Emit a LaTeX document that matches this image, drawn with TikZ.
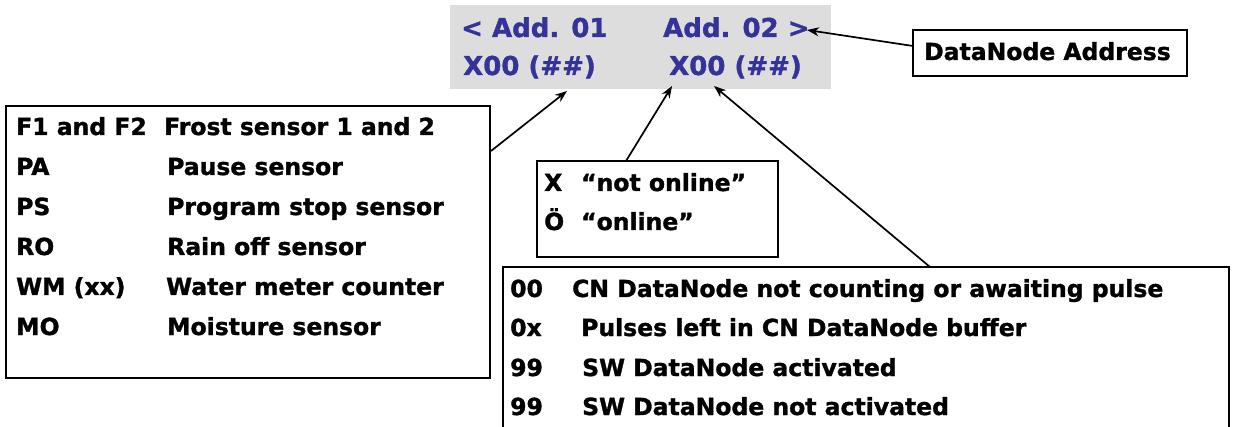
\documentclass[tikz,border=0pt]{standalone}
\usepackage{fontspec}
\setmainfont{DejaVu Sans}[BoldFeatures={FakeBold=1.3}]
\usetikzlibrary{arrows.meta}
\definecolor{addrblue}{HTML}{333399}
\definecolor{panelgrey}{HTML}{DDDDDD}
\begin{document}
\begin{tikzpicture}[x=1pt,y=-1pt,
  box/.style={draw=black, line width=1.5pt, fill=white, inner sep=0pt, outer sep=0pt, anchor=north west},
  txt/.style={anchor=base west, inner sep=0pt, font=\fontsize{23.5}{28}\selectfont\bfseries},
  btxt/.style={anchor=base west, inner sep=0pt, text=addrblue, font=\fontsize{26}{30}\selectfont\bfseries},
  pointer/.style={line width=1.7pt, -{Stealth[length=12pt,width=9pt]}},
  lead/.style={line width=1.3pt}]
\clip (0,0) rectangle (1233,427);
\fill[white] (0,0) rectangle (1233,427);

% grey display panel
\node[fill=panelgrey, inner sep=0pt, outer sep=0pt, anchor=north west, minimum width=381pt, minimum height=84pt] (panel) at (450,5) {};
\node[btxt] (a1) at (461,37) {< Add. 01};
\node[btxt] (a2) at (663,37) {Add. 02 >};
\node[btxt] (x1) at (463,75) {X00 (\#\#)};
\node[btxt] (x2) at (669,75) {X00 (\#\#)};

% DataNode address box
\node[box, minimum width=274pt, minimum height=46pt] (dnbox) at (913,30) {};
\node[txt] (dntext) at (924,60) {DataNode Address};

% sensors box
\node[box, minimum width=484pt, minimum height=272pt] (sensbox) at (6,106) {};
\node[txt] (s1a) at (16,135) {F1 and F2};
\node[txt] (s1b) at (164,135) {Frost sensor 1 and 2};
\node[txt] (s2a) at (16,175) {PA};
\node[txt] (s2b) at (167,175) {Pause sensor};
\node[txt] (s3a) at (16,215) {PS};
\node[txt] (s3b) at (167,215) {Program stop sensor};
\node[txt] (s4a) at (16,255) {RO};
\node[txt] (s4b) at (167,255) {Rain off sensor};
\node[txt] (s5a) at (16,295) {WM (xx)};
\node[txt] (s5b) at (166,295) {Water meter counter};
\node[txt] (s6a) at (16,335) {MO};
\node[txt] (s6b) at (167,335) {Moisture sensor};

% online status box
\node[box, minimum width=241pt, minimum height=96pt] (statbox) at (537,161) {};
\node[txt] (t1a) at (544,191) {X};
\node[txt] (t1b) at (581,191) {“not online”};
\node[txt] (t2a) at (544,230) {Ö};
\node[txt] (t2b) at (581,230) {“online”};

% code box (open at the bottom)
\node[box, minimum width=726pt, minimum height=200pt] (codebox) at (503,267) {};
\node[txt] (c1a) at (510,297) {00};
\node[txt] (c1b) at (572,297) {CN DataNode not counting or awaiting pulse};
\node[txt] (c2a) at (510,336) {0x};
\node[txt] (c2b) at (581,336) {Pulses left in CN DataNode buffer};
\node[txt] (c3a) at (510,376) {99};
\node[txt] (c3b) at (582,376) {SW DataNode activated};
\node[txt] (c4a) at (510,415) {99};
\node[txt] (c4b) at (582,415) {SW DataNode not activated};

% connector end points
\coordinate (sensout) at (491,151);
\coordinate (tip1) at (567,91);
\coordinate (statout) at (626,161);
\coordinate (tip2) at (672,86);
\coordinate (codeout) at (930,267);
\coordinate (tip3) at (714,86);
\coordinate (dnout) at (913,46);
\coordinate (tip4) at (807,30);

\draw[pointer] (sensout) -- (tip1);
\draw[pointer] (statout) -- (tip2);
\draw[pointer] (codeout) -- (tip3);
\draw[pointer] (dnout) -- (tip4);
\end{tikzpicture}
\end{document}
